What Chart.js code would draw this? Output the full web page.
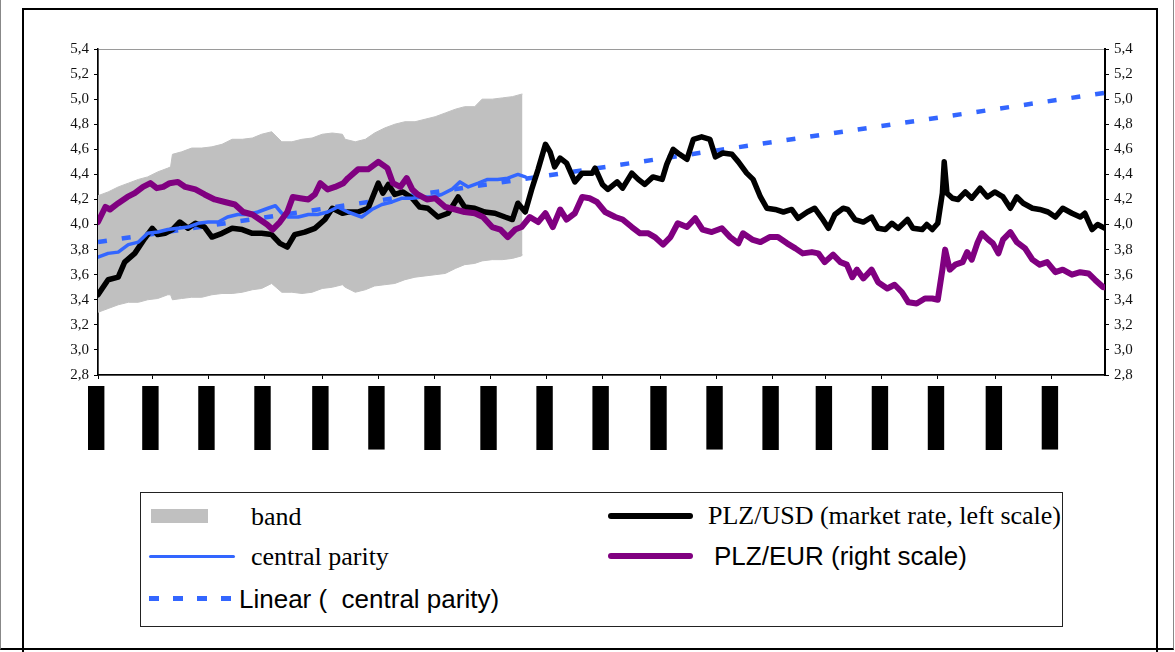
<!DOCTYPE html>
<html>
<head>
<meta charset="utf-8">
<script src="https://cdn.jsdelivr.net/npm/chart.js@4.4.1/dist/chart.umd.min.js"></script>
<style>
  html, body { margin: 0; padding: 0; background: #fff; }
  #page { position: relative; width: 1175px; height: 652px; overflow: hidden; background: #fff; }
  #outer { position: absolute; left: 0; top: 0; width: 1172px; height: 648px;
           border-left: 1px solid #888; border-right: 1px solid #888; border-bottom: 2px solid #000; }
  #frame { position: absolute; left: 22px; top: 8px; width: 1132px; height: 700px; border: 2px solid #000; }
  #chart { position: absolute; left: 0; top: 0; }
  #legend { position: absolute; left: 140px; top: 492px; width: 921px; height: 133px;
            border: 1px solid #222; background: #fff; }
  .txt { position: absolute; white-space: pre; font-size: 26px; line-height: 30px; color: #000; }
  .serif { font-family: "Liberation Serif", "Times New Roman", serif; }
  .sans { font-family: "Liberation Sans", Arial, sans-serif; }
  .swatch { position: absolute; }
</style>
</head>
<body>
<div id="page">
  <div id="outer"></div>
  <div id="frame"></div>
  <canvas id="chart" width="1175" height="652"></canvas>
  <div id="legend">
    <div class="swatch" style="left:10px; top:16px; width:57px; height:14px; background:#C0C0C0;"></div>
    <div class="txt serif" style="left:110px; top:9px;">band</div>
    <div class="swatch" style="left:8px; top:62px; width:86px; height:3px; background:#3366FF; border-radius:2px;"></div>
    <div class="txt serif" style="left:110px; top:49px;">central parity</div>
    <div class="swatch" style="left:8px; top:103px; width:82px; height:5px;
         background: repeating-linear-gradient(90deg, #3366FF 0 10px, transparent 10px 24px);"></div>
    <div class="txt sans" style="left:98px; top:91px;">Linear (  central parity)</div>
    <div class="swatch" style="left:467px; top:20px; width:85px; height:6px; background:#000; border-radius:3px;"></div>
    <div class="txt serif" style="left:567px; top:8px;">PLZ/USD (market rate, left scale)</div>
    <div class="swatch" style="left:467px; top:60px; width:85px; height:6px; background:#800080; border-radius:3px;"></div>
    <div class="txt sans" style="left:573px; top:48px;">PLZ/EUR (right scale)</div>
  </div>
</div>
<script>
// ===== data (x = days since 1 Jan 1999) =====
const tickDays = [0, 59, 120, 181, 244, 305, 366, 427, 488, 549, 612, 673, 734, 792, 853, 914, 977, 1038];
const tickLabels = ['04.01.1999', '01.03.1999', '04.05.1999', '01.07.1999', '01.09.1999', '02.11.1999',
  '03.01.2000', '01.03.2000', '02.05.2000', '03.07.2000', '01.09.2000', '02.11.2000',
  '02.01.2001', '01.03.2001', '02.05.2001', '02.07.2001', '03.09.2001', '02.11.2001'];

const usdDays = [0, 11, 22, 29, 40, 51, 59, 65, 73, 81, 89, 98, 106, 116, 124, 135, 146, 157, 168, 178,
  189, 198, 206, 214, 225, 236, 247, 255, 266, 272, 283, 294, 305, 310, 316, 323, 332, 342, 350, 359,
  370, 381, 392, 399, 410, 421, 432, 443, 451, 457, 465, 472, 479, 487, 492, 497, 503, 510, 519, 527,
  538, 541, 549, 555, 565, 571, 581, 588, 595, 604, 614, 619, 626, 633, 641, 648, 657, 666, 672, 680,
  690, 697, 706, 713, 721, 728, 737, 746, 755, 762, 772, 780, 788, 795, 802, 811, 816, 824, 833, 842,
  849, 857, 864, 871, 881, 887, 897, 902, 908, 914, 919, 921, 924, 930, 936, 944, 951, 960, 968, 976,
  985, 993, 1000, 1007, 1017, 1025, 1034, 1042, 1050, 1060, 1069, 1074, 1082, 1088, 1096];
const usdRates = [3.44, 3.56, 3.58, 3.70, 3.77, 3.89, 3.97, 3.92, 3.93, 3.96, 4.02, 3.97, 4.01, 3.98, 3.90, 3.93, 3.97, 3.96, 3.93, 3.93,
  3.92, 3.85, 3.82, 3.92, 3.94, 3.97, 4.04, 4.13, 4.09, 4.10, 4.10, 4.13, 4.33, 4.25, 4.32, 4.24, 4.26, 4.21, 4.14, 4.13,
  4.06, 4.09, 4.22, 4.14, 4.13, 4.10, 4.09, 4.06, 4.04, 4.17, 4.10, 4.28, 4.44, 4.64, 4.58, 4.46, 4.53, 4.49, 4.34, 4.41,
  4.41, 4.45, 4.32, 4.28, 4.34, 4.29, 4.41, 4.36, 4.32, 4.38, 4.36, 4.48, 4.60, 4.56, 4.52, 4.68, 4.70, 4.68, 4.54, 4.57,
  4.56, 4.50, 4.41, 4.36, 4.22, 4.13, 4.12, 4.10, 4.12, 4.05, 4.10, 4.13, 4.05, 3.97, 4.08, 4.13, 4.12, 4.04, 4.02, 4.06,
  3.97, 3.96, 4.01, 3.97, 4.04, 3.97, 3.96, 4.00, 3.96, 4.01, 4.25, 4.50, 4.25, 4.21, 4.20, 4.26, 4.21, 4.29, 4.22, 4.26,
  4.22, 4.13, 4.22, 4.17, 4.13, 4.12, 4.10, 4.06, 4.13, 4.09, 4.06, 4.09, 3.96, 4.00, 3.97];

const eurDays = [0, 8, 13, 22, 32, 40, 49, 57, 64, 71, 78, 87, 95, 106, 116, 127, 138, 149, 158, 168,
  176, 184, 190, 198, 206, 212, 220, 229, 236, 242, 250, 258, 267, 272, 283, 294, 305, 315, 321, 329,
  336, 342, 348, 358, 367, 378, 389, 399, 410, 419, 429, 438, 446, 454, 461, 470, 479, 487, 495, 503,
  510, 519, 527, 535, 543, 552, 563, 571, 581, 590, 599, 606, 615, 623, 631, 641, 650, 658, 668, 679,
  688, 697, 702, 712, 721, 731, 740, 750, 759, 767, 777, 784, 791, 800, 808, 815, 821, 826, 833, 842,
  849, 859, 867, 875, 882, 891, 900, 908, 914, 919, 922, 927, 933, 941, 946, 951, 957, 962, 969, 974,
  980, 985, 993, 1000, 1009, 1017, 1025, 1033, 1042, 1050, 1060, 1069, 1078, 1085, 1094, 1096];
const eurRates = [4.02, 4.14, 4.12, 4.17, 4.22, 4.25, 4.30, 4.33, 4.29, 4.30, 4.33, 4.34, 4.30, 4.28, 4.24, 4.20, 4.18, 4.16, 4.10, 4.08,
  4.04, 4.00, 3.96, 4.02, 4.10, 4.22, 4.21, 4.20, 4.24, 4.33, 4.28, 4.30, 4.33, 4.37, 4.44, 4.44, 4.50, 4.45, 4.33, 4.30,
  4.37, 4.28, 4.24, 4.20, 4.21, 4.14, 4.12, 4.10, 4.09, 4.06, 3.98, 3.96, 3.90, 3.96, 3.98, 4.06, 4.02, 4.09, 3.98, 4.12,
  4.04, 4.09, 4.22, 4.21, 4.18, 4.10, 4.06, 4.04, 3.98, 3.93, 3.93, 3.90, 3.84, 3.90, 4.01, 3.98, 4.05, 3.96, 3.94, 3.97,
  3.90, 3.85, 3.93, 3.88, 3.86, 3.90, 3.90, 3.85, 3.81, 3.77, 3.78, 3.77, 3.70, 3.76, 3.70, 3.68, 3.58, 3.64, 3.57, 3.64,
  3.54, 3.49, 3.52, 3.46, 3.38, 3.37, 3.41, 3.41, 3.40, 3.64, 3.80, 3.64, 3.68, 3.70, 3.78, 3.72, 3.85, 3.93, 3.88, 3.85,
  3.77, 3.88, 3.94, 3.86, 3.81, 3.72, 3.68, 3.70, 3.62, 3.64, 3.60, 3.62, 3.61, 3.56, 3.50, 3.50];

const parityDays = [0, 11, 22, 33, 44, 54, 65, 76, 87, 98, 109, 120, 131, 141, 152, 163, 174, 185, 193, 200,
  207, 218, 229, 239, 250, 261, 272, 287, 298, 309, 320, 331, 342, 353, 364, 374, 385, 394, 403, 414,
  424, 435, 446, 457, 465];
const parityRates = [3.74, 3.77, 3.78, 3.84, 3.86, 3.93, 3.94, 3.96, 3.97, 3.98, 4.01, 4.02, 4.02, 4.06, 4.08, 4.08, 4.10, 4.13, 4.15, 4.09,
  4.06, 4.06, 4.08, 4.08, 4.10, 4.14, 4.10, 4.06, 4.12, 4.16, 4.18, 4.21, 4.21, 4.22, 4.22, 4.24, 4.28, 4.34, 4.30, 4.33,
  4.36, 4.36, 4.37, 4.40, 4.38];

const bandDays = [0, 11, 22, 33, 44, 54, 65, 76, 79, 81, 91, 102, 113, 124, 135, 146, 157, 168, 178, 189,
  200, 211, 222, 233, 244, 255, 266, 269, 280, 291, 301, 312, 323, 334, 345, 356, 367, 378, 389, 399,
  410, 418, 429, 440, 451, 461, 462];
const bandUpper = [4.23, 4.26, 4.30, 4.33, 4.36, 4.38, 4.42, 4.45, 4.46, 4.56, 4.58, 4.61, 4.61, 4.62, 4.64, 4.68, 4.68, 4.69, 4.72, 4.74,
  4.66, 4.66, 4.68, 4.69, 4.72, 4.73, 4.72, 4.68, 4.66, 4.68, 4.73, 4.77, 4.80, 4.82, 4.82, 4.84, 4.86, 4.89, 4.92, 4.94,
  4.94, 5.00, 5.00, 5.01, 5.02, 5.04, 5.04];
const bandLower = [3.30, 3.33, 3.36, 3.38, 3.38, 3.40, 3.41, 3.44, 3.44, 3.40, 3.41, 3.42, 3.42, 3.44, 3.45, 3.45, 3.46, 3.48, 3.49, 3.53,
  3.46, 3.46, 3.45, 3.46, 3.49, 3.50, 3.52, 3.50, 3.46, 3.48, 3.51, 3.52, 3.53, 3.56, 3.58, 3.59, 3.60, 3.61, 3.65, 3.68,
  3.69, 3.71, 3.72, 3.72, 3.73, 3.75, 3.76];

const trendDays = [0, 1096];
const trendRates = [3.86, 5.05];

// ===== helpers =====
function pts(days, vals) {
    return days.map((d, i) => ({ x: d, y: vals[i] }));
}
function fmtTick(v) {
    return v.toFixed(1).replace('.', ',');
}

// gray frame of the plot area (axes are drawn black on top of it)
const plotBorder = {
    id: 'plotBorder',
    beforeDraw(chart) {
        const { ctx, chartArea: a } = chart;
        ctx.save();
        ctx.strokeStyle = '#9a9a9a';
        ctx.lineWidth = 1;
        ctx.strokeRect(a.left + 0.5, a.top + 0.5, a.right - a.left, a.bottom - a.top);
        ctx.restore();
    }
};

const yTicks = {
    stepSize: 0.2,
    callback: fmtTick,
    color: '#111',
    padding: 5,
    font: { family: 'Liberation Serif', size: 15 }
};

new Chart(document.getElementById('chart'), {
    type: 'line',
    data: {
        datasets: [
            { label: 'band', data: pts(bandDays, bandUpper), yAxisID: 'y', borderColor: '#C0C0C0', borderWidth: 1,
              backgroundColor: '#C0C0C0', fill: '+1', pointRadius: 0, order: 10 },
            { label: 'band low', data: pts(bandDays, bandLower), yAxisID: 'y', borderColor: '#C0C0C0', borderWidth: 1,
              fill: false, pointRadius: 0, order: 10 },
            { label: 'Linear (  central parity)', data: pts(trendDays, trendRates), yAxisID: 'y', borderColor: '#3366FF',
              borderWidth: 4.5, borderDash: [9, 15], borderCapStyle: 'butt', fill: false, pointRadius: 0, order: 3 },
            { label: 'PLZ/USD (market rate, left scale)', data: pts(usdDays, usdRates), yAxisID: 'y', borderColor: '#000',
              borderWidth: 5.5, borderJoinStyle: 'round', borderCapStyle: 'round', fill: false, pointRadius: 0, order: 2 },
            { label: 'central parity', data: pts(parityDays, parityRates), yAxisID: 'y', borderColor: '#3366FF',
              borderWidth: 3.5, borderJoinStyle: 'round', borderCapStyle: 'round', fill: false, pointRadius: 0, order: 1 },
            { label: 'PLZ/EUR (right scale)', data: pts(eurDays, eurRates), yAxisID: 'y2', borderColor: '#800080',
              borderWidth: 6, borderJoinStyle: 'round', borderCapStyle: 'round', fill: false, pointRadius: 0, order: 0 }
        ]
    },
    options: {
        responsive: false,
        animation: false,
        events: [],
        layout: { padding: { top: 49, left: 0, right: 0, bottom: 0 } },
        plugins: { legend: { display: false }, tooltip: { enabled: false } },
        scales: {
            x: {
                type: 'linear',
                min: 0,
                max: 1096,
                afterBuildTicks: (scale) => { scale.ticks = tickDays.map(v => ({ value: v })); },
                afterFit: (scale) => { scale.height = 277; },
                grid: { drawOnChartArea: false, tickLength: 4, color: '#000', lineWidth: 1 },
                border: { color: '#000', width: 1.5 },
                ticks: {
                    autoSkip: false,
                    minRotation: 90,
                    maxRotation: 90,
                    padding: 8,
                    labelOffset: -9,
                    color: '#000',
                    font: { family: 'Liberation Serif', size: 12 },
                    showLabelBackdrop: true,
                    backdropColor: '#000',
                    backdropPadding: { top: 1, bottom: 1, left: 9, right: 1 },
                    callback: (v, i) => tickLabels[i]
                }
            },
            y: {
                position: 'left',
                min: 2.8,
                max: 5.4,
                afterFit: (scale) => { scale.width = 98; },
                grid: { drawOnChartArea: false, tickLength: 4, color: '#000' },
                border: { color: '#000', width: 1.5 },
                ticks: yTicks
            },
            y2: {
                position: 'right',
                min: 2.8,
                max: 5.4,
                afterFit: (scale) => { scale.width = 70; },
                grid: { drawOnChartArea: false, tickLength: 4, color: '#000' },
                border: { color: '#000', width: 2 },
                ticks: yTicks
            }
        }
    },
    plugins: [plotBorder]
});
</script>
</body>
</html>
